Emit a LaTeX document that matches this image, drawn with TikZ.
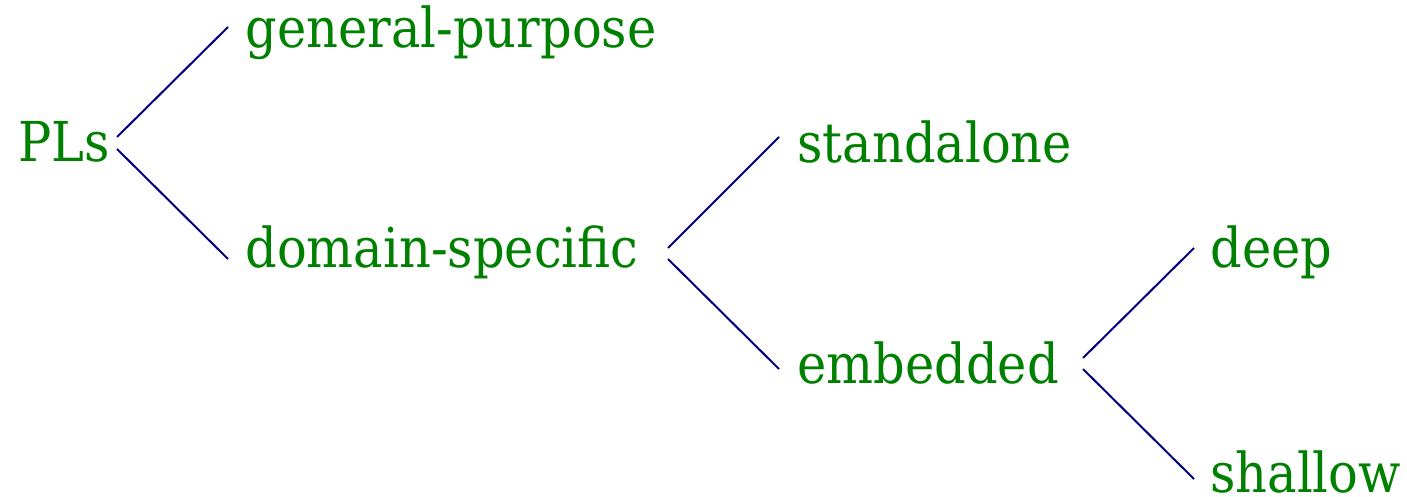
\documentclass[tikz,border=0pt]{standalone}
\usepackage{fontspec}
\setmainfont{DejaVu Serif Condensed}
\definecolor{lbl}{RGB}{0,128,0}
\definecolor{edge}{RGB}{0,0,128}
\begin{document}
\begin{tikzpicture}[x=0.5pt,y=-0.5pt,
  lab/.style={anchor=base west,inner sep=0pt,text=lbl,font=\fontsize{27.5}{33}\selectfont},
  br/.style={draw=edge,line width=1pt}]
\useasboundingbox (0,0) rectangle (1407,497);
\node[lab] (pls) at (18,162) {PLs};
\node[lab] (gp) at (245,48) {general-purpose};
\node[lab] (ds) at (245,268) {domain-specific};
\node[lab] (sa) at (797,163) {standalone};
\node[lab] (em) at (797,383) {embedded};
\node[lab] (dp) at (1210,268) {deep};
\node[lab] (sh) at (1210,492) {shallow};
\coordinate (p1) at (117,137); \coordinate (g1) at (228,27);
\coordinate (p2) at (117,149); \coordinate (d1) at (228,259);
\coordinate (d2) at (668,248); \coordinate (s1) at (779,137);
\coordinate (d3) at (668,259); \coordinate (e1) at (779,369);
\coordinate (e2) at (1083,358); \coordinate (dp1) at (1194,248);
\coordinate (e3) at (1083,369); \coordinate (sh1) at (1194,479);
\draw[br] (p1) -- (g1);
\draw[br] (p2) -- (d1);
\draw[br] (d2) -- (s1);
\draw[br] (d3) -- (e1);
\draw[br] (e2) -- (dp1);
\draw[br] (e3) -- (sh1);
\end{tikzpicture}
\end{document}
